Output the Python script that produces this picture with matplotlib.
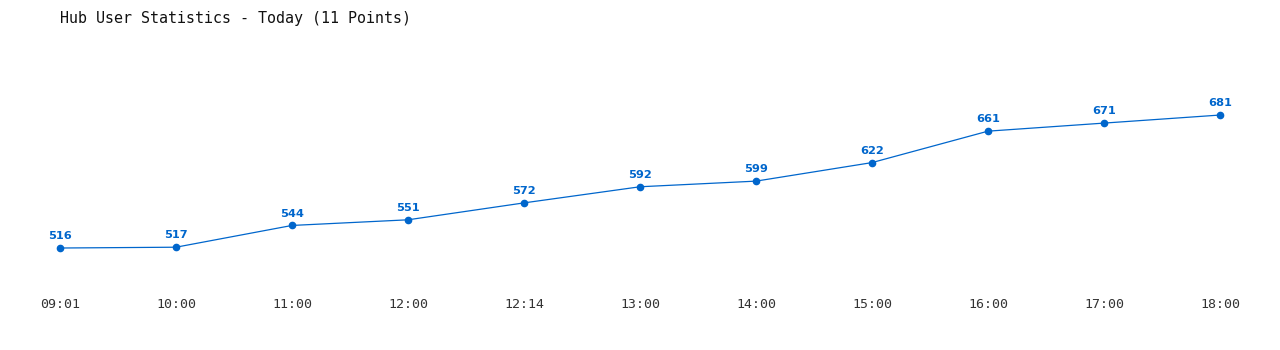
import matplotlib.pyplot as plt

times = ['09:01', '10:00', '11:00', '12:00', '12:14', '13:00',
         '14:00', '15:00', '16:00', '17:00', '18:00']
users = [516, 517, 544, 551, 572, 592, 599, 622, 661, 671, 681]

blue = '#0066cc'

fig = plt.figure(figsize=(12.8, 3.5), dpi=100)
ax = fig.add_axes([60 / 1280, 1 - 290 / 350, 1160 / 1280, 230 / 350])

x = list(range(len(times)))
ax.plot(x, users, color=blue, lw=0.9, marker='o', ms=4.5, zorder=3, clip_on=False)

for xi, v in zip(x, users):
    ax.annotate(str(v), (xi, v), xytext=(0, 5), textcoords='offset points',
                ha='center', va='bottom', color=blue, fontsize=8.2,
                fontweight='bold', family='DejaVu Sans')

ax.set_xlim(0, 10)
ax.set_ylim(463.9, 749.3)
ax.set_xticks(x)
ax.set_xticklabels(times, family='DejaVu Sans Mono', fontsize=9.5, color='#333333')
ax.tick_params(axis='x', length=0, pad=6)
ax.set_yticks([])
for s in ax.spines.values():
    s.set_visible(False)

fig.text(60 / 1280, 1 - 18 / 350, 'Hub User Statistics - Today (11 Points)',
         family='DejaVu Sans Mono', fontsize=10.8, color='#111111',
         ha='left', va='center')

fig.savefig('out.png', dpi=100, facecolor='white')
